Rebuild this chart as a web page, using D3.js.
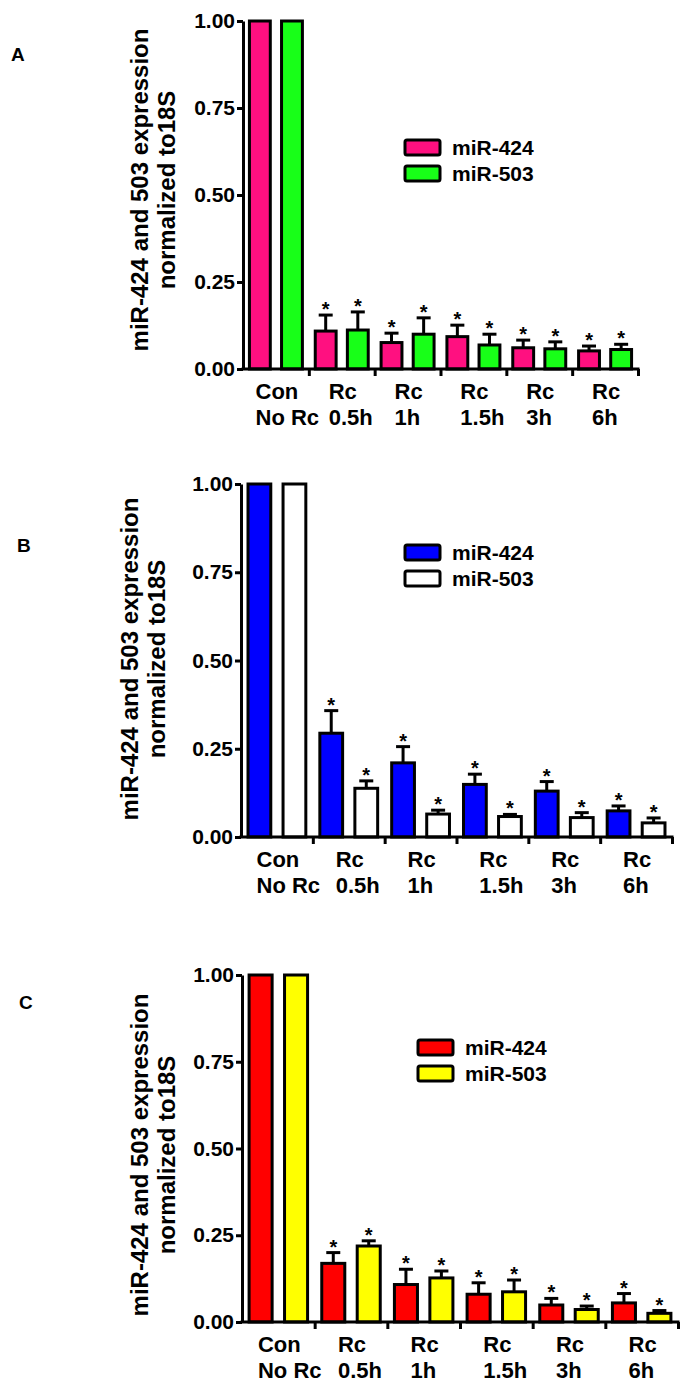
<!DOCTYPE html>
<html><head><meta charset="utf-8">
<script src="https://cdn.jsdelivr.net/npm/d3@7/dist/d3.min.js"></script>
<style>
html,body{margin:0;padding:0;background:#fff;}
svg text{font-family:"Liberation Sans",Arial,Helvetica,sans-serif;font-weight:bold;fill:#000;}
</style></head>
<body><svg id="c" width="686" height="1391"></svg>
<script>
// ---------- data ----------
const catLine1 = ["Con", "Rc", "Rc", "Rc", "Rc", "Rc"];
const catLine2 = ["No Rc", "0.5h", "1h", "1.5h", "3h", "6h"];
const seriesNames = ["miR-424", "miR-503"];
const yTicks = [0, 0.25, 0.5, 0.75, 1.0];
const yLabel1 = "miR-424 and 503 expression";
const yLabel2 = "normalized to18S";

const A_424 = [1.00, 0.109, 0.076, 0.093, 0.061, 0.052];
const A_424_err = [null, 0.046, 0.027, 0.033, 0.022, 0.014];
const A_503 = [1.00, 0.112, 0.100, 0.069, 0.058, 0.056];
const A_503_err = [null, 0.052, 0.047, 0.031, 0.020, 0.015];

const B_424 = [1.00, 0.294, 0.210, 0.149, 0.130, 0.074];
const B_424_err = [null, 0.064, 0.046, 0.029, 0.027, 0.014];
const B_503 = [1.00, 0.138, 0.065, 0.058, 0.055, 0.040];
const B_503_err = [null, 0.021, 0.011, 0.006, 0.014, 0.014];

const C_424 = [1.00, 0.169, 0.108, 0.080, 0.049, 0.055];
const C_424_err = [null, 0.031, 0.044, 0.033, 0.019, 0.027];
const C_503 = [1.00, 0.219, 0.127, 0.087, 0.036, 0.025];
const C_503_err = [null, 0.015, 0.020, 0.034, 0.010, 0.008];

const panels = [
  {tag:"A", vals:[A_424, A_503], errs:[A_424_err, A_503_err], colors:["#ff1080", "#18ff18"],
   x0:243, x1:638, yTop:21, yBot:369, tagX:11, tagY:61, lab1X:140, lab2X:167, labY:190,
   legX:405, legY:140},
  {tag:"B", vals:[B_424, B_503], errs:[B_424_err, B_503_err], colors:["#0000ff", "#ffffff"],
   x0:241, x1:672, yTop:484, yBot:837, tagX:17, tagY:552, lab1X:130, lab2X:157, labY:659,
   legX:405, legY:545},
  {tag:"C", vals:[C_424, C_503], errs:[C_424_err, C_503_err], colors:["#ff0000", "#ffff00"],
   x0:242, x1:678, yTop:975, yBot:1322, tagX:19, tagY:1009, lab1X:140, lab2X:167, labY:1155,
   legX:418, legY:1040}
];

const svg = d3.select("#c");
svg.append("rect").attr("width",686).attr("height",1391).attr("fill","#fff");

panels.forEach(p => {
  const g = svg.append("g");
  const y = d3.scaleLinear().domain([0, 1]).range([p.yBot, p.yTop]);
  const xg = d3.scaleBand().domain(d3.range(catLine1.length)).range([p.x0, p.x1]).padding(0);
  const xi = d3.scaleBand().domain([0, 1]).range([0, xg.bandwidth()]).paddingInner(0.35).paddingOuter(0.2);
  const xLin = d3.scaleLinear().domain([0, catLine1.length]).range([p.x0, p.x1]);

  // bars
  for (let s = 0; s < 2; s++) {
    const vals = p.vals[s], errs = p.errs[s];
    vals.forEach((v, i) => {
      const bx = xg(i) + xi(s), bw = xi.bandwidth();
      if (errs[i] != null) {
        const cx = bx + bw / 2;
        g.append("line").attr("x1", cx).attr("x2", cx).attr("y1", y(v)).attr("y2", y(v + errs[i]))
          .attr("stroke", "#000").attr("stroke-width", 3);
        g.append("line").attr("x1", cx - 7).attr("x2", cx + 7).attr("y1", y(v + errs[i])).attr("y2", y(v + errs[i]))
          .attr("stroke", "#000").attr("stroke-width", 3);
        g.append("text").attr("x", cx).attr("y", y(v + errs[i]) + 1).attr("text-anchor", "middle")
          .style("font-size", "20px").text("*");
      }
      g.append("rect").attr("x", bx).attr("y", y(v)).attr("width", bw).attr("height", y(0) - y(v))
        .attr("fill", p.colors[s]).attr("stroke", "#000").attr("stroke-width", 3);
    });
  }

  // y axis
  const ya = g.append("g").attr("transform", `translate(${p.x0},0)`)
    .call(d3.axisLeft(y).tickValues(yTicks).tickFormat(d3.format(".2f")).tickSize(6).tickSizeOuter(0).tickPadding(2));
  ya.attr("font-family", null).attr("font-size", null);
  ya.selectAll("path,line").attr("stroke", "#000").attr("stroke-width", 3);
  ya.selectAll("text").style("font-size", "21px").attr("fill", "#000");

  // x axis
  const xa = g.append("g").attr("transform", `translate(0,${p.yBot})`)
    .call(d3.axisBottom(xLin).tickValues(d3.range(1, catLine1.length + 1)).tickFormat("").tickSize(7).tickSizeOuter(0));
  xa.select(".domain").attr("d", `M${p.x0 - 1.5},0H${p.x1 + 1.5}`);
  xa.selectAll("path,line").attr("stroke", "#000").attr("stroke-width", 3);

  // category labels
  catLine1.forEach((c, i) => {
    const cx = xg(i) + xg.bandwidth() / 2;
    const t1 = g.append("text").attr("y", p.yBot + 30).style("font-size", "22px").text(c);
    const w = t1.node().getComputedTextLength();
    const sx = cx - w / 2 + 1;
    t1.attr("x", sx);
    g.append("text").attr("x", sx).attr("y", p.yBot + 56).style("font-size", "22px").text(catLine2[i]);
  });

  // y label
  g.append("text").attr("transform", `translate(${p.lab1X},${p.labY}) rotate(-90)`)
    .attr("text-anchor", "middle").attr("dy", "0.35em").style("font-size", "24px").text(yLabel1);
  g.append("text").attr("transform", `translate(${p.lab2X},${p.labY}) rotate(-90)`)
    .attr("text-anchor", "middle").attr("dy", "0.35em").style("font-size", "24px").text(yLabel2);

  // panel tag
  g.append("text").attr("x", p.tagX).attr("y", p.tagY).style("font-size", "19px").text(p.tag);

  // legend
  seriesNames.forEach((n, s) => {
    const ly = p.legY + s * 26;
    g.append("rect").attr("x", p.legX).attr("y", ly).attr("width", 35).attr("height", 15).attr("rx", 2)
      .attr("fill", p.colors[s]).attr("stroke", "#000").attr("stroke-width", 3);
    g.append("text").attr("x", p.legX + 47).attr("y", ly + 15).style("font-size", "21px").text(n);
  });
});
</script></body></html>
